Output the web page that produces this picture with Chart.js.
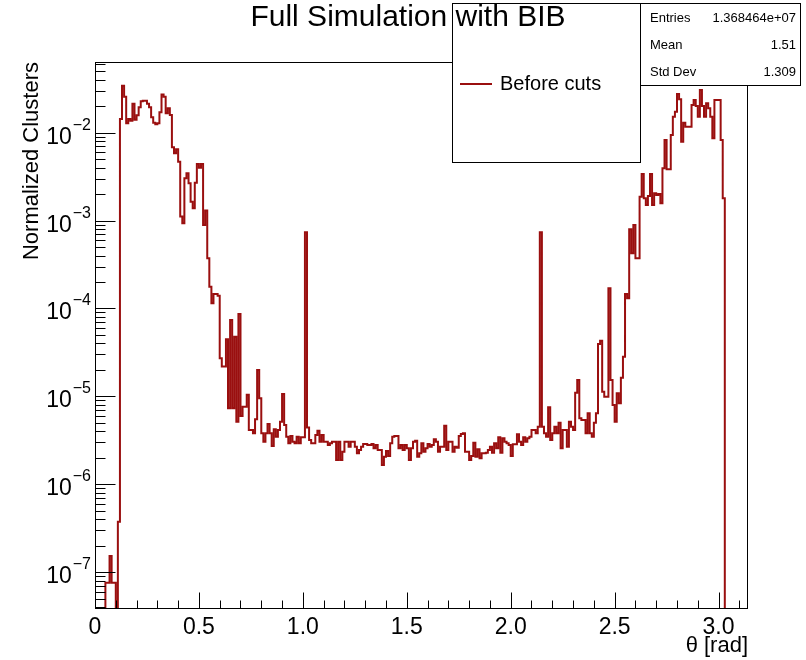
<!DOCTYPE html>
<html>
<head>
<meta charset="utf-8">
<script src="https://cdn.jsdelivr.net/npm/chart.js@4.4.1/dist/chart.umd.min.js"></script>
<style>
  html, body { margin: 0; padding: 0; background: #ffffff; }
  canvas { display: block; }
</style>
</head>
<body>
<canvas id="c" width="806" height="660"></canvas>
<script>
// ---- data (bin width 0.01 rad, bins start at theta = 0) ----
const binWidth = 0.01;
const binValues = [
  0, 0, 0, 0, 0, 7.6e-8, 7.6e-8, 1.53e-7, 7.6e-8, 7.6e-8,
  0, 3.75e-7, 0.0143, 0.0342, 0.0257, 0.0128, 0.0143, 0.0137, 0.0214, 0.0140,
  0.0158, 0.0195, 0.0228, 0.0231, 0.0231, 0.0214, 0.0195, 0.0150, 0.0130, 0.0125,
  0.0128, 0.0171, 0.0271, 0.0257, 0.0166, 0.0190, 0.0159, 0.00682, 0.00583, 0.00647,
  0.00468, 0.00111, 0.000932, 0.00303, 0.00345, 0.00266, 0.00164, 0.00138, 0.00270, 0.00441,
  0.00400, 0.00441, 0.000891, 0.00130, 0.000373, 0.000177, 0.000115, 0.000146, 0.000146, 0.000140,
  2.71e-5, 2.18e-5, 2.18e-5, 4.46e-5, 7.32e-6, 7.40e-5, 7.32e-6, 4.78e-5, 5.16e-6, 8.66e-5,
  5.98e-6, 7.63e-6, 7.63e-6, 1.04e-5, 4.15e-6, 4.15e-6, 3.80e-6, 5.49e-6, 2.00e-5, 9.51e-6,
  3.80e-6, 3.05e-6, 3.80e-6, 4.85e-6, 3.80e-6, 2.73e-6, 4.22e-6, 3.48e-6, 4.15e-6, 5.16e-6,
  1.065e-5, 4.73e-6, 3.48e-6, 2.93e-6, 3.54e-6, 3.05e-6, 2.93e-6, 3.48e-6, 2.93e-6, 3.42e-6,
  3.42e-6, 0.000736, 4.42e-6, 3.19e-6, 2.93e-6, 2.93e-6, 3.64e-6, 4.07e-6, 3.05e-6, 3.64e-6,
  3.05e-6, 3.05e-6, 2.80e-6, 2.93e-6, 3.05e-6, 3.05e-6, 1.89e-6, 3.05e-6, 1.89e-6, 2.35e-6,
  3.05e-6, 3.05e-6, 2.68e-6, 3.05e-6, 3.05e-6, 2.68e-6, 2.25e-6, 2.46e-6, 2.68e-6, 2.87e-6,
  2.87e-6, 2.80e-6, 2.80e-6, 2.87e-6, 2.57e-6, 2.80e-6, 2.46e-6, 2.46e-6, 1.66e-6, 2.06e-6,
  2.39e-6, 2.10e-6, 2.93e-6, 3.48e-6, 3.54e-6, 3.54e-6, 2.57e-6, 2.80e-6, 2.46e-6, 2.80e-6,
  2.57e-6, 1.89e-6, 2.57e-6, 3.05e-6, 3.13e-6, 2.06e-6, 2.25e-6, 2.93e-6, 2.35e-6, 2.57e-6,
  2.87e-6, 2.68e-6, 2.80e-6, 3.25e-6, 3.05e-6, 2.35e-6, 2.68e-6, 2.68e-6, 4.64e-6, 2.46e-6,
  3.05e-6, 3.05e-6, 2.35e-6, 2.68e-6, 2.61e-6, 3.54e-6, 3.73e-6, 3.80e-6, 2.35e-6, 2.35e-6,
  1.89e-6, 2.10e-6, 2.97e-6, 2.06e-6, 2.50e-6, 1.98e-6, 2.25e-6, 2.25e-6, 2.29e-6, 2.46e-6,
  2.68e-6, 2.29e-6, 2.93e-6, 2.57e-6, 3.42e-6, 2.29e-6, 3.33e-6, 3.05e-6, 2.93e-6, 2.80e-6,
  2.10e-6, 2.85e-6, 2.85e-6, 3.71e-6, 3.05e-6, 2.80e-6, 3.42e-6, 3.05e-6, 3.33e-6, 3.48e-6,
  4.15e-6, 4.15e-6, 3.80e-6, 4.52e-6, 0.000736, 4.52e-6, 3.80e-6, 3.48e-6, 7.52e-6, 3.19e-6,
  3.80e-6, 4.52e-6, 3.80e-6, 5.02e-6, 2.57e-6, 4.15e-6, 4.15e-6, 2.68e-6, 5.16e-6, 4.52e-6,
  4.15e-6, 1.10e-5, 1.54e-5, 5.64e-6, 5.40e-6, 5.40e-6, 3.80e-6, 6.42e-6, 3.80e-6, 3.48e-6,
  5.02e-6, 6.42e-6, 3.95e-5, 4.30e-5, 1.13e-5, 9.92e-6, 9.92e-6, 0.000170, 1.54e-5, 7.98e-6,
  5.16e-6, 1.085e-5, 8.34e-6, 1.63e-5, 2.83e-5, 0.000146, 0.000131, 0.000796, 0.000425, 0.000891,
  0.000373, 0.000373, 0.00187, 0.00339, 0.00179, 0.00150, 0.00191, 0.00339, 0.00150, 0.00204,
  0.00196, 0.00200, 0.00157, 0.00394, 0.00826, 0.00383, 0.00383, 0.00942, 0.01521, 0.01734,
  0.02756, 0.02399, 0.00790, 0.01300, 0.01170, 0.01170, 0.01170, 0.02067, 0.02355, 0.02015,
  0.01521, 0.0306, 0.02015, 0.01521, 0.02164, 0.01896, 0.01521, 0.00864, 0.02355, 0.02355,
  0.02355, 0.00826, 0.00179
];
const xMin = 0;
const xMax = Math.PI;
const yMin = 3.81e-8;
const yMax = 0.0637;
const xMajorStep = 0.5;
const xMinorStep = 0.1;
const yDecades = [-7, -6, -5, -4, -3, -2];
const titleText = 'Full Simulation with BIB';
const xTitle = 'θ [rad]';
const yTitle = 'Normalized Clusters';
const legendLabel = 'Before cuts';
const statNames = ['Entries', 'Mean', 'Std Dev'];
const statValues = ['1.368464e+07', '1.51', '1.309'];

const lineColor = '#9a0f0f';
const FONT = '"Liberation Sans", Arial, Helvetica, sans-serif';

// histogram outline points at bin edges; empty bins sit on the axis floor (as ROOT draws them on a log scale)
const histPoints = binValues.map((v, i) => ({ x: i * binWidth, y: v > 0 ? v : yMin }));
histPoints.push({ x: binValues.length * binWidth, y: yMin });
histPoints.push({ x: xMax, y: yMin });

const rootDecor = {
  id: 'rootDecor',
  afterDraw(chart) {
    const { ctx, chartArea: a, scales } = chart;
    const xs = scales.x, ys = scales.y;
    ctx.save();
    ctx.strokeStyle = '#000';
    ctx.lineWidth = 1;

    // frame
    const L = Math.round(a.left) + 0.5, R = Math.round(a.right) - 0.5;
    const T = Math.round(a.top) + 0.5, B = Math.round(a.bottom) - 0.5;
    ctx.strokeRect(L, T, R - L, B - T);

    // tick marks (inside the frame)
    ctx.beginPath();
    const nMinor = Math.floor((xMax - xMin) / xMinorStep + 1e-9);
    for (let i = 0; i <= nMinor; i++) {
      const v = xMin + i * xMinorStep;
      const px = Math.round(xs.getPixelForValue(v)) + 0.5;
      const len = (i % Math.round(xMajorStep / xMinorStep) === 0) ? 16 : 8;
      ctx.moveTo(px, B);
      ctx.lineTo(px, B - len);
    }
    for (let d = -9; d <= 0; d++) {
      for (let m = 1; m <= 9; m++) {
        const v = m * Math.pow(10, d);
        if (v < yMin || v > yMax) continue;
        const py = Math.round(ys.getPixelForValue(v)) + 0.5;
        const len = m === 1 ? 20 : 10;
        ctx.moveTo(L, py);
        ctx.lineTo(L + len, py);
      }
    }
    ctx.stroke();

    // y tick labels 10^n
    ctx.fillStyle = '#000';
    ctx.textBaseline = 'alphabetic';
    ctx.textAlign = 'left';
    for (const d of yDecades) {
      const py = ys.getPixelForValue(Math.pow(10, d));
      const expStr = '\u2212' + Math.abs(d);
      ctx.font = '16px ' + FONT;
      const ew = ctx.measureText(expStr).width;
      ctx.font = '23px ' + FONT;
      const bw = ctx.measureText('10').width;
      const right = 91;
      const bx = right - ew - bw - 1;
      ctx.fillText('10', bx, py + 11);
      ctx.font = '16px ' + FONT;
      ctx.fillText(expStr, bx + bw + 1, py - 3);
    }

    // axis titles
    ctx.font = '22px ' + FONT;
    ctx.textAlign = 'right';
    ctx.textBaseline = 'middle';
    ctx.fillText(xTitle, R + 0.5, 646);
    ctx.save();
    ctx.translate(32, a.top);
    ctx.rotate(-Math.PI / 2);
    ctx.font = '22px ' + FONT;
    ctx.textAlign = 'right';
    ctx.textBaseline = 'middle';
    ctx.fillText(yTitle, 0, 0);
    ctx.restore();

    // legend box
    ctx.fillStyle = '#fff';
    ctx.fillRect(452.5, 3.5, 188, 159);
    ctx.strokeRect(452.5, 3.5, 188, 159);
    ctx.strokeStyle = lineColor;
    ctx.lineWidth = 2;
    ctx.beginPath();
    ctx.moveTo(460, 84);
    ctx.lineTo(492, 84);
    ctx.stroke();
    ctx.fillStyle = '#000';
    ctx.font = '20px ' + FONT;
    ctx.textAlign = 'left';
    ctx.textBaseline = 'middle';
    ctx.fillText(legendLabel, 500, 84);

    // stats box
    ctx.strokeStyle = '#000';
    ctx.lineWidth = 1;
    ctx.fillStyle = '#fff';
    ctx.fillRect(640.5, 3.5, 160, 82);
    ctx.strokeRect(640.5, 3.5, 160, 82);
    ctx.fillStyle = '#000';
    ctx.font = '13px ' + FONT;
    const rows = [18, 45, 72];
    statNames.forEach((n, i) => {
      ctx.textAlign = 'left';
      ctx.fillText(n, 650, rows[i]);
      ctx.textAlign = 'right';
      ctx.fillText(statValues[i], 796, rows[i]);
    });

    // title
    ctx.font = '30px ' + FONT;
    ctx.textAlign = 'center';
    ctx.textBaseline = 'middle';
    ctx.fillText(titleText, 408, 18);
    ctx.restore();
  }
};

new Chart(document.getElementById('c'), {
  type: 'line',
  data: {
    datasets: [{
      label: legendLabel,
      data: histPoints,
      stepped: true,
      borderColor: lineColor,
      borderWidth: 2,
      pointRadius: 0,
      fill: false,
      tension: 0,
      clip: 0
    }]
  },
  options: {
    responsive: false,
    animation: false,
    devicePixelRatio: 1,
    layout: { padding: { left: 0, right: 58, top: 62, bottom: 0 } },
    plugins: { legend: { display: false }, tooltip: { enabled: false }, title: { display: false } },
    scales: {
      x: {
        type: 'linear',
        min: xMin,
        max: xMax,
        grid: { display: false, drawTicks: false },
        border: { display: false },
        ticks: {
          stepSize: xMajorStep,
          includeBounds: false,
          autoSkip: false,
          maxRotation: 0,
          padding: 5,
          color: '#000',
          font: { family: FONT, size: 23 }
        },
        afterFit(s) { s.height = 51; }
      },
      y: {
        type: 'logarithmic',
        min: yMin,
        max: yMax,
        grid: { display: false, drawTicks: false },
        border: { display: false },
        ticks: { display: false },
        afterFit(s) { s.width = 95; }
      }
    }
  },
  plugins: [rootDecor]
});
</script>
</body>
</html>
